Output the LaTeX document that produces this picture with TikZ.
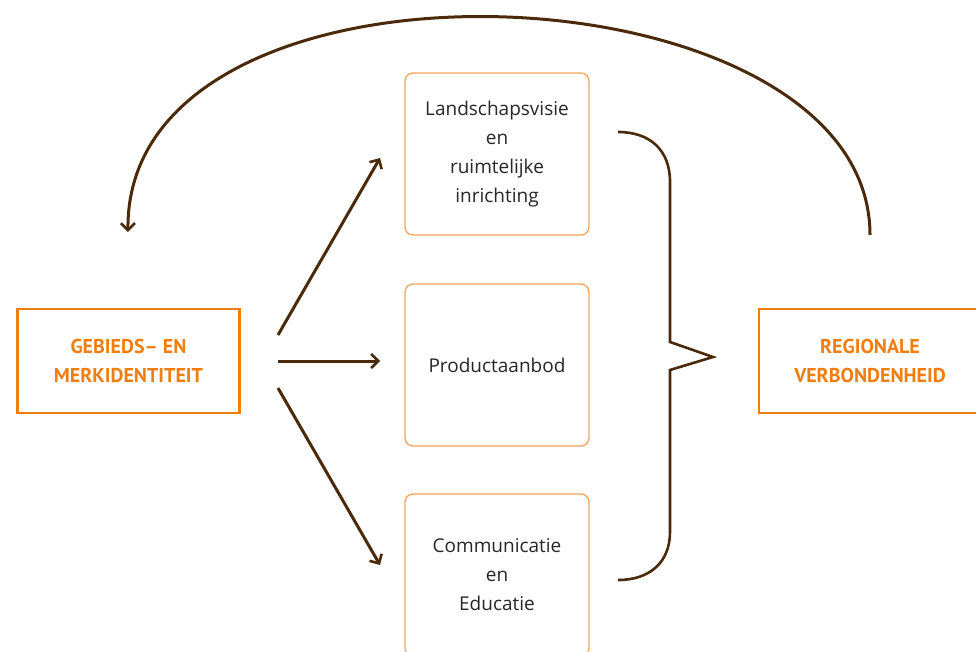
\documentclass[tikz,border=0pt]{standalone}
\usepackage{fontspec}
\setmainfont{Open Sans}
\newfontfamily\headfont{PT Sans}
\usetikzlibrary{arrows.meta}
\definecolor{brn}{HTML}{4A2A0A}
\definecolor{org}{HTML}{F07D10}
\definecolor{lorg}{HTML}{F5A35A}
\tikzset{
  midbox/.style={draw=lorg, line width=1.3pt, rounded corners=8pt, minimum width=184pt, minimum height=162pt, inner sep=0pt, align=center, font=\fontsize{19}{29}\selectfont\color{black!85}},
  sidebox/.style={draw=org, line width=2.4pt, minimum width=222pt, minimum height=104pt, inner sep=0pt, align=center, font=\headfont\bfseries\fontsize{20}{29}\selectfont\color{org}},
  conn/.style={draw=brn, line width=3pt, -{Straight Barb[length=7pt,width=14pt,line width=2.6pt]}},
  brace/.style={draw=brn, line width=2.6pt}
}
\begin{document}
\begin{tikzpicture}[x=1pt,y=-1pt]
\useasboundingbox (0,0) rectangle (976,652);
\node[sidebox] (geb) at (128.5,361) {GEBIEDS–\ EN\\MERKIDENTITEIT};
\node[sidebox] (reg) at (870,361) {REGIONALE\\VERBONDENHEID};
\node[midbox] (land) at (497,154) {Landschapsvisie\\en\\ruimtelijke\\inrichting};
\node[midbox] (prod) at (497,365) {Productaanbod};
\node[midbox] (comm) at (497,575) {Communicatie\\en\\Educatie};
\coordinate (a1s) at (278,335); \coordinate (a1e) at (380,158);
\coordinate (a2s) at (278,361); \coordinate (a2e) at (380,361);
\coordinate (a3s) at (278,388); \coordinate (a3e) at (380,565);
\draw[conn] (a1s) -- (a1e);
\draw[conn] (a2s) -- (a2e);
\draw[conn] (a3s) -- (a3e);
\coordinate (arcs) at (870,235);
\coordinate (arce) at (128,232);
\draw[conn] (arcs) .. controls (870,-40) and (125,-70) .. (arce);
\draw[brace] (618,132) .. controls (650,132) and (670,150) .. (670,182)
  -- (670,342) -- (713,357) -- (670,370) -- (670,532)
  .. controls (670,562) and (650,580) .. (618,580);
\end{tikzpicture}
\end{document}
